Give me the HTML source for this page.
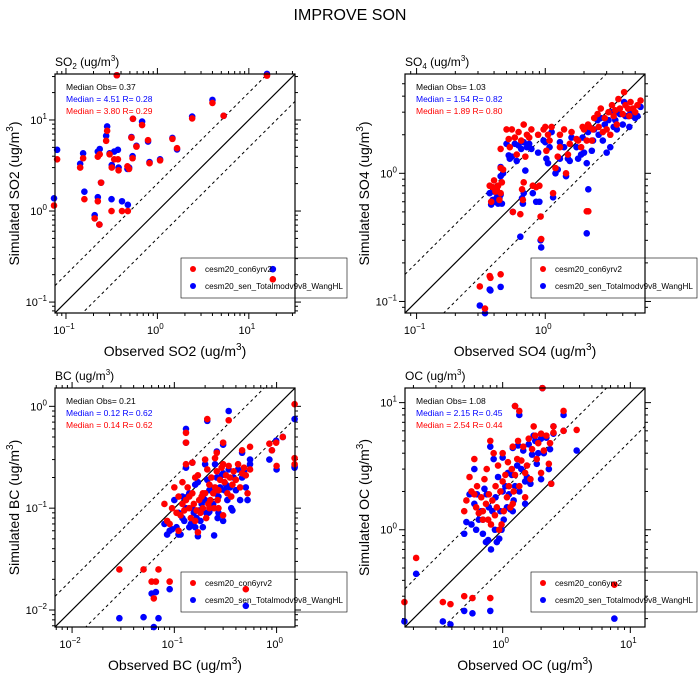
<!DOCTYPE html>
<html><head><meta charset="utf-8"><style>
body{margin:0;background:#fff}
svg{display:block;font-family:"Liberation Sans",sans-serif}
</style></head><body>
<svg id="c" width="700" height="700"></svg>
<script>
// ---- data (obs, sim con6yrv2 red, sim WangHL blue) ----
const so2Obs=[0.074,0.080,0.143,0.154,0.159,0.206,0.223,0.223,0.234,0.232,0.242,0.275,0.282,0.30,0.317,0.315,0.337,0.37,0.376,0.36,0.41,0.47,0.475,0.49,0.52,0.535,0.54,0.59,0.68,0.79,0.82,1.07,1.46,1.64,2.4,4.0,5.3,15.8,18.3];
const so2Red=[1.15,3.7,3.0,3.8,1.35,0.83,1.28,3.95,4.2,0.71,2.05,5.9,7.6,4.2,3.0,1.0,3.7,3.7,2.8,31,1.0,3.1,1.0,2.9,6.4,3.8,10.3,5.1,8.8,6.0,3.35,3.6,6.2,4.9,10.4,15.4,11.1,30.7,0.178];
const so2Blue=[1.38,4.7,3.3,4.3,1.63,0.90,1.42,4.5,4.8,0.71,2.05,6.7,8.5,4.3,3.2,1.35,4.5,4.7,3.0,31,1.28,2.9,1.17,3.0,6.5,4.0,10.3,5.2,9.6,5.8,3.45,3.7,6.35,4.75,10.9,16.6,11.1,32,0.23];

const so4Obs=[0.31,0.34,0.37,0.375,0.45,0.93,2.1,2.16,0.37,0.38,0.39,0.40,0.41,0.42,0.43,0.44,0.45,0.46,0.45,0.47,0.45,0.50,0.52,0.55,0.53,0.56,0.58,0.60,0.62,0.64,0.65,0.68,0.67,0.70,0.72,0.68,0.66,0.75,0.78,0.80,0.85,0.90,0.88,0.92,0.97,1.0,1.02,1.05,1.08,1.12,1.15,1.2,1.25,1.3,1.3,1.4,1.45,1.5,1.55,1.6,1.75,1.8,1.9,1.95,2.0,2.1,2.15,2.2,2.3,2.35,2.4,2.55,2.6,2.7,2.8,2.9,3.0,3.1,3.2,3.3,3.4,3.5,3.6,3.7,3.8,4.0,4.1,4.2,4.4,4.5,4.6,4.8,5.0,5.2,5.5];
const so4Red=[0.131,0.088,0.158,0.153,0.163,0.307,0.505,0.505,0.80,0.60,0.78,0.88,0.72,0.75,0.80,0.62,0.70,0.85,1.1,1.07,1.55,2.2,1.85,2.2,1.6,0.5,1.9,1.4,2.1,0.48,1.8,2.4,0.62,1.35,2.0,0.85,0.75,1.9,2.2,0.8,0.78,0.8,2.0,0.46,2.2,2.3,1.5,2.0,1.8,2.3,0.7,1.1,1.35,1.6,2.0,2.2,1.0,1.4,1.7,2.1,1.85,1.8,1.6,2.3,2.2,1.8,2.4,2.3,1.8,2.2,2.7,2.9,2.3,3.2,2.1,2.7,2.2,3.0,2.0,3.4,2.8,3.1,2.4,3.8,3.2,2.9,4.3,3.4,3.2,2.8,3.6,3.2,3.0,3.4,3.7];
const so4Blue=[0.093,0.081,0.124,0.122,0.13,0.264,0.34,0.75,0.70,0.57,0.62,0.72,0.60,0.65,0.58,0.64,0.68,0.58,0.95,1.0,1.12,1.7,1.38,1.35,1.3,0.5,1.7,1.25,1.65,0.32,1.55,1.75,0.58,1.05,1.6,0.7,0.64,1.7,1.55,0.7,0.6,0.6,1.45,0.3,1.8,1.75,1.3,1.2,1.6,2.1,0.65,1.0,1.07,1.3,1.75,1.6,0.95,1.3,1.25,1.9,1.6,1.3,1.4,1.9,1.45,1.2,2.1,2.2,1.5,1.8,2.2,2.6,2.0,2.7,1.8,2.4,1.45,2.6,1.6,3.0,2.3,2.6,2.2,3.0,2.9,2.4,3.6,2.8,2.8,2.3,3.0,2.8,2.7,2.8,3.3];

const bcObs=[0.029,0.05,0.06,0.063,0.066,0.07,0.09,0.5,0.13,0.13,0.21,0.34,1.5,1.5,1.5,1.15,0.99,0.85,0.9,1.0,0.3,0.26,0.13,0.15,0.55,0.46,0.08,0.085,0.09,0.095,0.10,0.105,0.11,0.115,0.12,0.125,0.13,0.135,0.14,0.145,0.15,0.155,0.16,0.165,0.17,0.175,0.18,0.185,0.19,0.2,0.205,0.21,0.215,0.22,0.225,0.23,0.24,0.245,0.25,0.26,0.265,0.27,0.28,0.29,0.3,0.31,0.32,0.33,0.34,0.35,0.36,0.37,0.38,0.4,0.42,0.44,0.46,0.48,0.5,0.52,0.55,0.12,0.14,0.17,0.2,0.25,0.3,0.22,0.16,0.11,0.19,0.27];
const bcRed=[0.025,0.025,0.019,0.013,0.019,0.025,0.019,0.016,0.55,0.44,0.75,0.73,1.05,0.31,0.27,0.5,0.44,0.43,0.37,0.26,0.44,0.35,0.27,0.28,0.4,0.37,0.11,0.075,0.07,0.1,0.16,0.09,0.13,0.085,0.11,0.095,0.12,0.16,0.1,0.08,0.14,0.11,0.2,0.095,0.058,0.12,0.09,0.13,0.1,0.14,0.08,0.24,0.11,0.17,0.12,0.2,0.14,0.1,0.16,0.23,0.12,0.15,0.19,0.25,0.085,0.18,0.21,0.14,0.26,0.2,0.13,0.17,0.23,0.19,0.27,0.16,0.22,0.25,0.21,0.14,0.24,0.18,0.13,0.21,0.3,0.31,0.27,0.1,0.075,0.06,0.14,0.1];
const bcBlue=[0.0083,0.0085,0.0145,0.0068,0.015,0.0083,0.016,0.011,0.6,0.44,0.72,0.9,0.75,0.25,0.26,0.5,0.46,0.3,0.37,0.24,0.42,0.36,0.25,0.28,0.3,0.35,0.07,0.055,0.06,0.062,0.12,0.065,0.09,0.055,0.08,0.075,0.1,0.13,0.065,0.07,0.1,0.09,0.17,0.08,0.053,0.095,0.075,0.11,0.065,0.12,0.09,0.19,0.09,0.15,0.1,0.16,0.11,0.054,0.14,0.2,0.08,0.13,0.16,0.21,0.075,0.15,0.17,0.12,0.24,0.16,0.1,0.095,0.2,0.15,0.24,0.12,0.2,0.23,0.16,0.12,0.27,0.13,0.14,0.18,0.27,0.27,0.22,0.092,0.065,0.055,0.13,0.09];

const ocObs=[0.17,0.21,0.34,0.39,0.5,0.58,0.8,7.5,2.05,1.25,1.35,3.0,3.8,3.0,2.5,2.4,1.75,0.5,0.52,0.55,0.57,0.6,0.62,0.63,0.65,0.68,0.7,0.72,0.74,0.75,0.77,0.78,0.8,0.81,0.83,0.85,0.87,0.88,0.9,0.92,0.94,0.96,0.98,1.0,1.02,1.05,1.08,1.1,1.12,1.15,1.18,1.2,1.22,1.25,1.3,1.32,1.35,1.4,1.45,1.5,1.55,1.6,1.65,1.7,1.8,1.85,1.9,2.0,2.1,2.2,2.3,2.35,2.5,0.6,0.7,1.0,1.5,1.2,2.0];
const ocRed=[0.27,0.6,0.27,0.26,0.3,0.29,0.29,0.37,13,9.4,8.6,8.6,6.1,6.0,6.5,2.3,6.5,1.4,1.7,2.6,2.0,1.9,1.5,2.2,1.35,1.8,1.2,2.5,1.6,3.0,1.2,1.9,5.0,1.1,1.7,4.0,1.3,2.2,1.5,3.2,1.0,2.0,1.1,4.0,1.4,2.7,1.8,3.4,2.2,1.5,3.0,4.5,2.0,2.7,3.6,5.0,2.2,3.5,4.5,2.8,3.2,5.2,2.5,4.3,5.5,3.6,4.8,5.7,4.2,5.5,3.3,4.8,5.8,3.6,1.4,2.4,1.8,1.6,2.8];
const ocBlue=[0.19,0.45,0.19,0.18,0.23,0.22,0.23,0.2,13,9.4,8.0,8.0,4.2,6.0,6.5,2.3,5.5,0.93,1.15,1.9,1.1,1.6,1.0,1.9,1.2,1.4,0.93,2.1,0.8,1.9,0.83,1.5,4.5,0.7,1.4,3.6,1.0,1.8,0.8,2.6,0.85,1.4,1.0,3.7,1.2,2.2,1.5,2.8,1.9,1.45,2.7,4.4,1.7,2.2,3.2,4.6,2.0,3.0,4.2,2.4,2.6,4.7,2.3,3.9,5.0,3.3,4.0,5.2,4.0,5.3,3.0,4.3,5.7,3.0,1.2,2.0,1.6,1.4,2.5];

const panels=[
 {key:'so2',obs:so2Obs,red:so2Red,blue:so2Blue,x0:55,y0:74,lmin:-1.12,lmax:1.505,xt:[-1,0,1],yt:[-1,0,1],title:['SO','2'],sp:'SO2',med:['Median Obs= 0.37','Median = 4.51 R= 0.28','Median = 3.80 R= 0.29']},
 {key:'so4',obs:so4Obs,red:so4Red,blue:so4Blue,x0:405,y0:74,lmin:-1.09,lmax:0.775,xt:[-1,0],yt:[-1,0],title:['SO','4'],sp:'SO4',med:['Median Obs= 1.03','Median = 1.54 R= 0.82','Median = 1.89 R= 0.80']},
 {key:'bc',obs:bcObs,red:bcRed,blue:bcBlue,x0:55,y0:388,lmin:-2.167,lmax:0.18,xt:[-2,-1,0],yt:[-2,-1,0],title:['BC',''],sp:'BC',med:['Median Obs= 0.21','Median = 0.12 R= 0.62','Median = 0.14 R= 0.62']},
 {key:'oc',obs:ocObs,red:ocRed,blue:ocBlue,x0:405,y0:388,lmin:-0.765,lmax:1.115,xt:[0,1],yt:[0,1],title:['OC',''],sp:'OC',med:['Median Obs= 1.08','Median = 2.15 R= 0.45','Median = 2.54 R= 0.44']}
];
const NS='http://www.w3.org/2000/svg';
const svg=document.getElementById('c');
function mk(tag,attrs,parent,text){const e=document.createElementNS(NS,tag);for(const k in attrs)e.setAttribute(k,attrs[k]);if(text!==undefined)e.textContent=text;(parent||svg).appendChild(e);return e;}

const t=mk('text',{x:350,y:20,'text-anchor':'middle','font-size':16},svg,'IMPROVE SON');



const W=240,H=239;
panels.forEach(p=>{
 const g=mk('g',{});
 
 
 const sx=v=>p.x0+(Math.log10(v)-p.lmin)/(p.lmax-p.lmin)*W;
 const sy=v=>p.y0+H-(Math.log10(v)-p.lmin)/(p.lmax-p.lmin)*H;
 const lo=Math.pow(10,p.lmin),hi=Math.pow(10,p.lmax);
 const clip='clip-'+p.key;
 const cp=mk('clipPath',{id:clip},g);mk('rect',{x:p.x0,y:p.y0,width:W,height:H},cp);
 const ticks=mk('g',{stroke:'#000','stroke-width':1},g);
 
 
 for(let d=Math.floor(p.lmin);d<=Math.ceil(p.lmax);d++){
  for(let m=1;m<10;m++){
   const v=m*Math.pow(10,d);const L=Math.log10(v);
   if(L<p.lmin||L>p.lmax)continue;
   const len=m===1?6:3;
   const X=sx(v),Y=sy(v);
   mk('line',{x1:X,y1:p.y0+H,x2:X,y2:p.y0+H+len},ticks);
   mk('line',{x1:X,y1:p.y0,x2:X,y2:p.y0-len},ticks);
   mk('line',{x1:p.x0,y1:Y,x2:p.x0-len,y2:Y},ticks);
   mk('line',{x1:p.x0+W,y1:Y,x2:p.x0+W+len,y2:Y},ticks);
  }
 }
 p.xt.forEach(e=>{const tx=mk('text',{x:sx(Math.pow(10,e))-2,y:p.y0+H+21,'text-anchor':'middle','font-size':11},g);
  
  tx.textContent='10';mk('tspan',{dy:-5,'font-size':8},tx,String(e).replace('-','\u2212'));});
 p.yt.forEach(e=>{const tx=mk('text',{x:p.x0-8,y:sy(Math.pow(10,e))+4,'text-anchor':'end','font-size':11},g);
  
  tx.textContent='10';mk('tspan',{dy:-5,'font-size':8},tx,String(e).replace('-','\u2212'));});
 const lines=mk('g',{'clip-path':'url(#'+clip+')',stroke:'#000',fill:'none'},g);
 
 
 mk('line',{x1:sx(lo),y1:sy(lo),x2:sx(hi),y2:sy(hi),'stroke-width':1.2},lines);
 mk('line',{x1:sx(lo),y1:sy(lo*2),x2:sx(hi),y2:sy(hi*2),'stroke-dasharray':'3,3'},lines);
 mk('line',{x1:sx(lo),y1:sy(lo/2),x2:sx(hi),y2:sy(hi/2),'stroke-dasharray':'3,3'},lines);
 const bl=mk('g',{fill:'#0000ff'},g);
 
 
 p.obs.forEach((o,i)=>{const c=mk('circle',{cx:sx(o),cy:sy(p.blue[i]),r:3.3},bl);
  });
 const rd=mk('g',{fill:'#ff0000'},g);
 
 
 p.obs.forEach((o,i)=>{const c=mk('circle',{cx:sx(o),cy:sy(p.red[i]),r:3.3},rd);
  });
 const fr=mk('rect',{x:p.x0,y:p.y0,width:W,height:H,fill:'none',stroke:'#000','stroke-width':1.2},g);
 
 ['#000','#0000ff','#ff0000'].forEach((col,i)=>{const m=mk('text',{x:p.x0+11,y:p.y0+16+i*12,'font-size':8.5,fill:col},g,p.med[i]);
  });
 const lg=mk('g',{},g);
 
 
 mk('rect',{x:p.x0+126,y:p.y0+184,width:166,height:40,fill:'none',stroke:'#000','stroke-width':0.6},lg);
 mk('circle',{cx:p.x0+138,cy:p.y0+195,r:3,fill:'#ff0000'},lg);
 mk('text',{x:p.x0+150,y:p.y0+198,'font-size':8.5,textLength:67,lengthAdjust:'spacingAndGlyphs'},lg,'cesm20_con6yrv2');
 mk('circle',{cx:p.x0+138,cy:p.y0+212,r:3,fill:'#0000ff'},lg);
 mk('text',{x:p.x0+150,y:p.y0+215,'font-size':8.5,textLength:138,lengthAdjust:'spacingAndGlyphs'},lg,'cesm20_sen_Totalmodv9v8_WangHL');
 const pt=mk('text',{x:p.x0,y:p.y0-8,'font-size':12},g);
 
 pt.textContent=p.title[0];
 if(p.title[1])mk('tspan',{dy:3,'font-size':8},pt,p.title[1]);
 mk('tspan',{dy:p.title[1]?-3:0,'font-size':12},pt,' (ug/m');
 mk('tspan',{dy:-5,'font-size':8},pt,'3');
 mk('tspan',{dy:5,'font-size':12},pt,')');
 const xt=mk('text',{x:p.x0+W/2,y:p.y0+H+43,'text-anchor':'middle','font-size':14},g,'Observed '+p.sp+' (ug/m');
 
 mk('tspan',{dy:-6,'font-size':10},xt,'3');mk('tspan',{dy:6},xt,')');
 const cy=p.y0+H/2,cx=p.x0-36;
 const yt=mk('text',{x:cx,y:cy,'text-anchor':'middle','font-size':14,transform:'rotate(-90 '+cx+' '+cy+')'},g,'Simulated '+p.sp+' (ug/m');
 
 mk('tspan',{dy:-6,'font-size':10},yt,'3');mk('tspan',{dy:6},yt,')');
});
</script>
</body></html>
